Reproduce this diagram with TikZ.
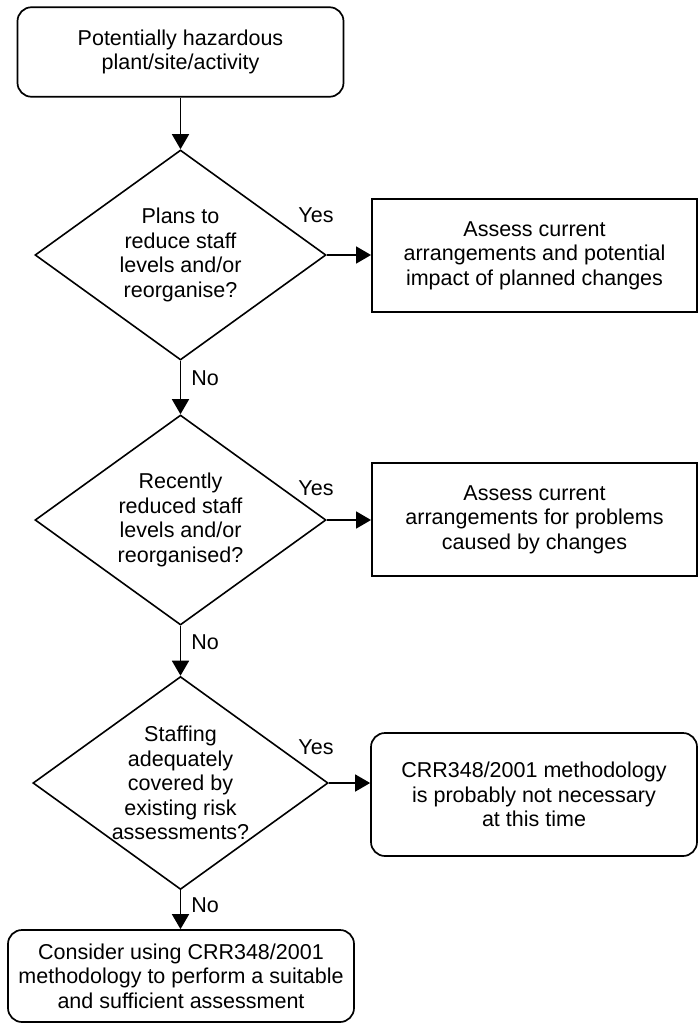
\documentclass[tikz,border=0pt]{standalone}
\usepackage{fontspec}
\setmainfont{Liberation Sans}
\usetikzlibrary{shapes.geometric,arrows.meta}

\begin{document}
\begin{tikzpicture}[x=1pt,y=-1pt,
  txt/.style={font=\fontsize{21.5}{24.5}\selectfont, align=center},
  box/.style={txt, draw, line width=1.9pt, inner sep=0pt},
  roundbox/.style={box, line width=1.7pt, rounded corners=14pt},
  decision/.style={txt, draw, line width=1.6pt, shape=diamond, aspect=1.386,
    inner sep=0pt, minimum width=291pt, minimum height=210pt},
  arr/.style={line width=1.6pt, -{Triangle[length=15pt,width=17pt]}},
  lbl/.style={txt, inner sep=0pt}
]
\useasboundingbox (0,0) rectangle (699,1025);

% main column
\node[roundbox, minimum width=326pt, minimum height=89.5pt] (start) at (180.5,52)
  {Potentially hazardous\\plant/site/activity};

\node[decision] (d1) at (180.5,255)
  {Plans to\\reduce staff\\levels and/or\\reorganise?};
\node[decision] (d2) at (180.5,520)
  {Recently\\reduced staff\\levels and/or\\reorganised?};
\node[decision] (d3) at (180.5,783)
  {Staffing\\adequately\\covered by\\existing risk\\assessments?};

\node[roundbox, minimum width=346pt, minimum height=92pt] (consider) at (181,976)
  {Consider using CRR348/2001\\methodology to perform a suitable\\and sufficient assessment};

% outcomes on the right
\node[box, minimum width=325pt, minimum height=112.5pt] (r1) at (534.5,255.5)
  {Assess current\\arrangements and potential\\impact of planned changes};
\node[box, minimum width=325pt, minimum height=113pt] (r2) at (534.5,519.5)
  {Assess current\\arrangements for problems\\caused by changes};
\node[roundbox, minimum width=326pt, minimum height=123pt] (r3) at (534,794.5)
  {CRR348/2001 methodology\\is probably not necessary\\at this time};

% connectors
\draw[arr] (start.south) -- (d1.north);
\draw[arr] (d1.south) -- (d2.north);
\draw[arr] (d2.south) -- (d3.north);
\draw[arr] (d3.south) -- (d3.south |- consider.north);
\draw[arr] (d1.east) -- (d1.east -| r1.west);
\draw[arr] (d2.east) -- (d2.east -| r2.west);
\draw[arr] (d3.east) -- (d3.east -| r3.west);

% branch labels
\node[lbl] (y1) at (316,215) {Yes};
\node[lbl] (y2) at (316,488) {Yes};
\node[lbl] (y3) at (316,747) {Yes};
\node[lbl] (n1) at (205,378) {No};
\node[lbl] (n2) at (205,642) {No};
\node[lbl] (n3) at (205,905) {No};
\end{tikzpicture}
\end{document}
